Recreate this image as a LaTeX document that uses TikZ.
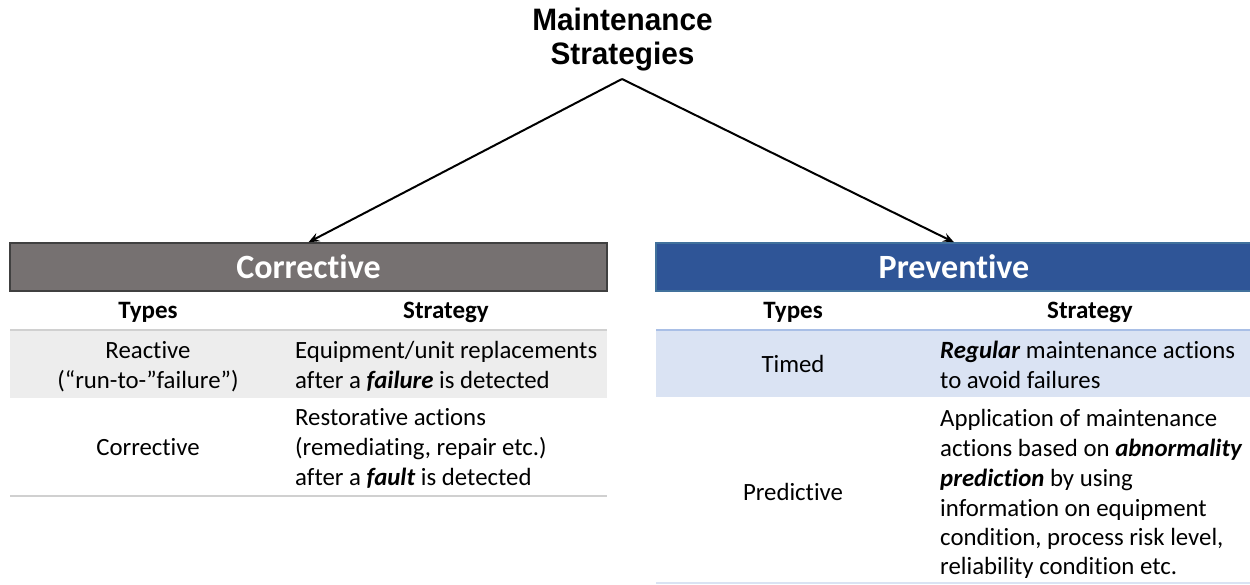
\documentclass[tikz,border=0pt]{standalone}
\usepackage{fontspec}
\setmainfont{Carlito}[Ligatures=NoCommon]
\newfontfamily\titlefam{Liberation Sans}
\usetikzlibrary{arrows.meta}
\definecolor{corrgray}{HTML}{767171}
\definecolor{corrborder}{HTML}{404040}
\definecolor{prevblue}{HTML}{2F5597}
\definecolor{prevborder}{HTML}{41719C}
\definecolor{rowgray}{HTML}{EDEDED}
\definecolor{linegray}{HTML}{D0D0D0}
\definecolor{rowblue}{HTML}{DAE3F3}
\definecolor{lineblue}{HTML}{A9BFE6}
\tikzset{
  x=1pt, y=-1pt,
  titletext/.style={font=\titlefam\bfseries\fontsize{31}{35}\selectfont, inner sep=0pt, anchor=base},
  headbox/.style={minimum height=48pt, inner sep=0pt, font=\bfseries\fontsize{34}{38}\selectfont, text=white, line width=1.5pt},
  colhead/.style={font=\bfseries\fontsize{25}{30}\selectfont, inner sep=0pt, anchor=base},
  cell/.style={font=\fontsize{24.8}{30}\selectfont, inner sep=0pt},
  celltext/.style={font=\fontsize{24.8}{30}\selectfont, inner sep=0pt, anchor=base west},
  arr/.style={-{Stealth[length=11pt,width=9pt,inset=4pt]}, line width=2pt},
}
\begin{document}
\begin{tikzpicture}
\useasboundingbox (0,0) rectangle (1250,585);
% title
\node[titletext] (t1) at (622.5,31) {\scalebox{0.96}[1]{Maintenance}};
\node[titletext] (t2) at (622.5,65) {\scalebox{0.96}[1]{Strategies}};
\coordinate (apex) at (622,79);
% headers
\node[headbox, fill=corrgray, draw=corrborder, minimum width=597pt] (ch) at (308.5,267) {Corrective};
\node[headbox, fill=prevblue, draw=prevborder, minimum width=596pt] (ph) at (954,267) {Preventive};
\draw[arr] (apex) -- (ch.north);
\draw[arr] (apex) -- (ph.north);
% left table
\fill[rowgray] (10,330) rectangle (607,398);
\draw[linegray, line width=2pt] (10,330) -- (607,330);
\draw[linegray, line width=2pt] (10,496) -- (607,496);
\node[colhead] (lty) at (148,319) {Types};
\node[colhead] (lst) at (446,319) {Strategy};
\node[cell, align=center, anchor=base] (lr1) at (148,388) {Reactive\\(“run-to-”failure”)};
\node[celltext] (ls1a) at (295,358) {Equipment/unit replacements};
\node[celltext] (ls1b) at (295,388) {after a \textbf{\textit{failure}} is detected};
\node[cell, anchor=base] (lr2) at (148,455) {Corrective};
\node[celltext] (ls2a) at (295,425) {Restorative actions};
\node[celltext] (ls2b) at (295,455) {(remediating, repair etc.)};
\node[celltext] (ls2c) at (295,485) {after a \textbf{\textit{fault}} is detected};
% right table
\fill[rowblue] (656,330) rectangle (1250,397);
\draw[lineblue, line width=2pt] (656,330) -- (1250,330);
\draw[rowblue, line width=2pt] (656,583) -- (1250,583);
\node[colhead] (rty) at (793,319) {Types};
\node[colhead] (rst) at (1090,319) {Strategy};
\node[cell, anchor=base] (rr1) at (793,372) {Timed};
\node[celltext] (rs1a) at (940,358) {\textbf{\textit{Regular}} maintenance actions};
\node[celltext] (rs1b) at (940,388) {to avoid failures};
\node[cell, anchor=base] (rr2) at (793,500) {Predictive};
\node[celltext] (rs2a) at (940,426) {Application of maintenance};
\node[celltext] (rs2b) at (940,456) {actions based on \textbf{\textit{abnormality}}};
\node[celltext] (rs2c) at (940,486) {\textbf{\textit{prediction}} by using};
\node[celltext] (rs2d) at (940,516) {information on equipment};
\node[celltext] (rs2e) at (940,545) {condition, process risk level,};
\node[celltext] (rs2f) at (940,574) {reliability condition etc.};
\end{tikzpicture}
\end{document}
